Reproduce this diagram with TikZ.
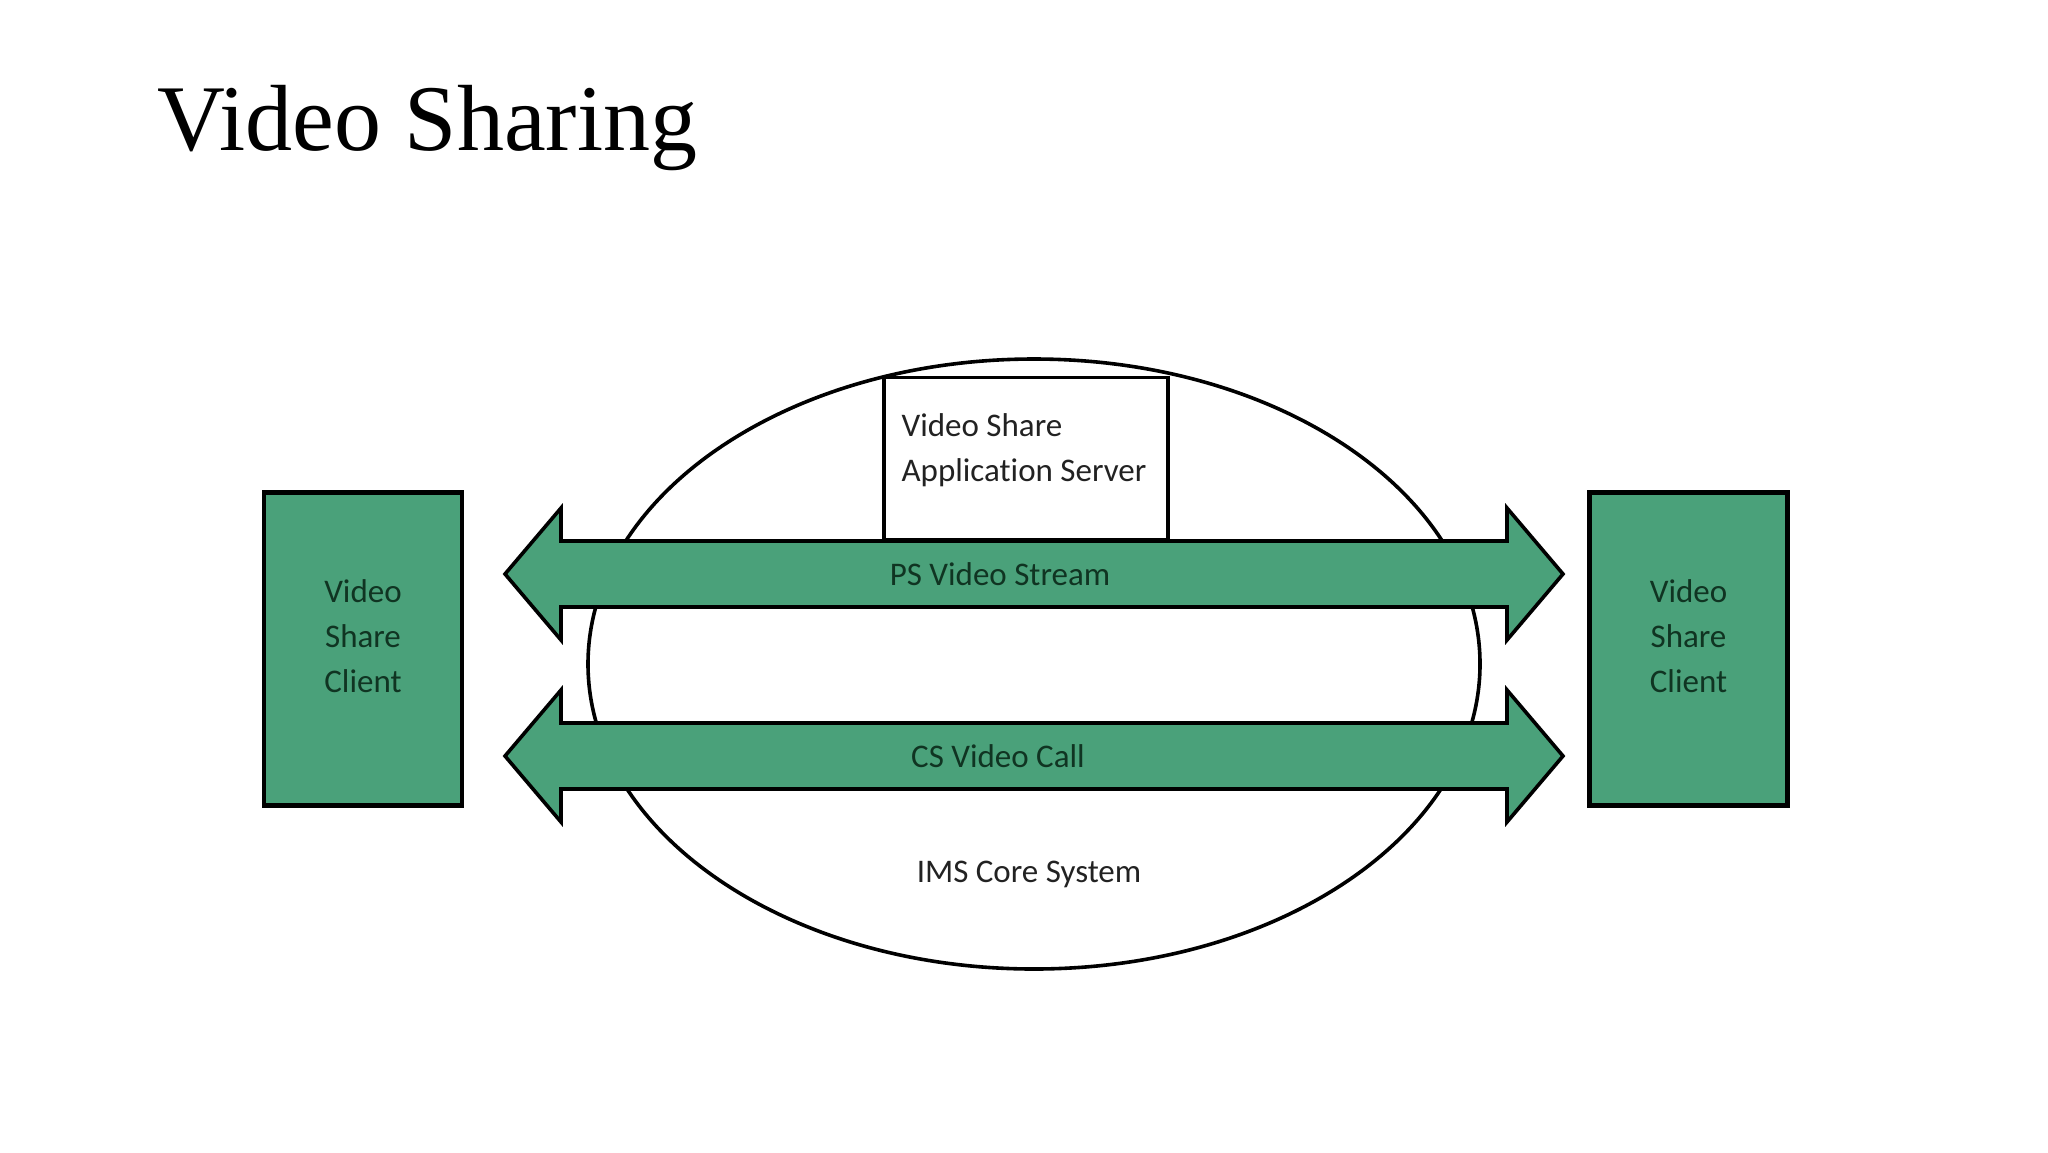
\documentclass[tikz,border=0pt]{standalone}
\usepackage{fontspec}
\usetikzlibrary{shapes.geometric,calc}
\setmainfont{Liberation Serif}
\newfontfamily\diagfont[Ligatures={NoCommon}]{Carlito}
\definecolor{vsgreen}{RGB}{74,161,122}
\definecolor{vsdark}{RGB}{16,52,34}
\definecolor{vsgray}{RGB}{34,34,34}
\begin{document}
\begin{tikzpicture}[x=0.5pt,y=-0.5pt,
  client/.style={draw=black,line width=2.2pt,fill=vsgreen,minimum width=99pt,minimum height=156.5pt,inner sep=0pt},
  lbl/.style={font=\diagfont\fontsize{16.5}{22.5}\selectfont,inner sep=0pt},
  dblarrow/.style={draw=black,line width=1.8pt,fill=vsgreen,line join=miter}]
\useasboundingbox (0,0) rectangle (2048,1152);
% title
\node[anchor=base west,inner sep=0pt,font=\fontsize{47}{56}\selectfont] (title) at (157,150) {Video Sharing};
% IMS core ellipse
\node[draw=black,line width=1.8pt,ellipse,minimum width=446pt,minimum height=305pt,inner sep=0pt] (ims) at (1034,664) {};
% server box
\node[draw=black,line width=1.8pt,fill=white,minimum width=142pt,minimum height=81pt,inner sep=0pt] (server) at (1026,458.5) {};
\node[lbl,text=vsgray,align=left] (servertext) at (1024,450) {Video Share\\Application Server};
% clients
\node[client] (lclient) at (363,649) {};
\node[client] (rclient) at (1688.5,649) {};
\node[lbl,text=vsdark,align=center] at (363,636) {Video\\Share\\Client};
\node[lbl,text=vsdark,align=center] at (1688.5,636) {Video\\Share\\Client};
% tip coordinates
\coordinate (psL) at (505,574);
\coordinate (psR) at (1563,574);
\coordinate (csL) at (505,756);
\coordinate (csR) at (1563,756);
% PS arrow
\draw[dblarrow] (psL) -- ++(56,-66) -- ++(0,33) -- ($(psR)+(-56,-33)$) -- ++(0,-33) -- (psR) -- ++(-56,66) -- ++(0,-33) -- ($(psL)+(56,33)$) -- ++(0,33) -- cycle;
% CS arrow
\draw[dblarrow] (csL) -- ++(56,-66) -- ++(0,33) -- ($(csR)+(-56,-33)$) -- ++(0,-33) -- (csR) -- ++(-56,66) -- ++(0,-33) -- ($(csL)+(56,33)$) -- ++(0,33) -- cycle;
\node[lbl,text=vsdark] (pslabel) at (1000,574) {PS Video Stream};
\node[lbl,text=vsdark] (cslabel) at (998,756) {CS Video Call};
\node[lbl,text=vsgray] (imslabel) at (1029,874) {IMS Core System};
\end{tikzpicture}
\end{document}
